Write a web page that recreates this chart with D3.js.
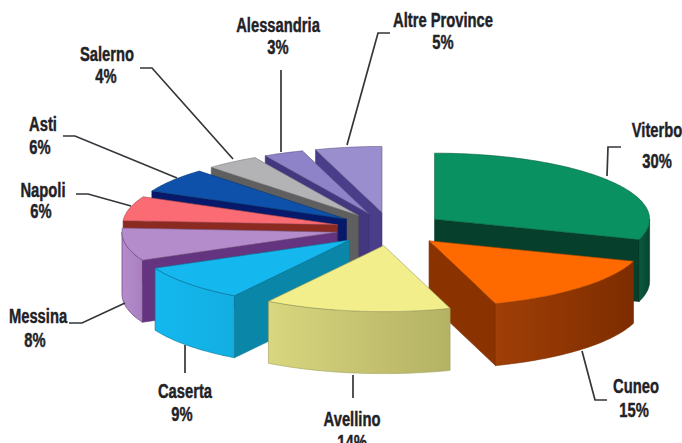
<!DOCTYPE html>
<html>
<head>
<meta charset="utf-8">
<script src="https://cdn.jsdelivr.net/npm/d3@7"></script>
<style>
  html, body { margin: 0; padding: 0; background: #fff; }
  svg { display: block; }
  text { font-family: "Liberation Sans", sans-serif; font-weight: 700; fill: #1f2226; stroke: #1f2226; stroke-width: 0.45px; text-anchor: middle; }
</style>
</head>
<body>
<svg id="chart" width="682" height="443"></svg>
<script>
// Share of production by province, in percent
const provinces = ["Viterbo", "Cuneo", "Avellino", "Caserta", "Messina", "Napoli", "Asti", "Salerno", "Alessandria", "Altre Province"];
const shares = [30, 15, 14, 9, 8, 6, 6, 4, 3, 5];

// Face colours per slice
const topColors  = ["#0a9162", "#ff6a00", "#f1ee8b", "#14b8ee", "#b48ccb", "#fa6b74", "#0d51aa", "#b3b3b6", "#8e82c9", "#9a8ecf"];
const wallColors = ["#063f2b", "#8a3300", "#b9b86a", "#0a87a8", "#643480", "#8a2a20", "#07196b", "#5f5f5f", "#43387f", "#4a3d8a"];
// Curved wall shading, left end then right end
const rimStops   = [
  ["#0a5a3e", "#07452f"],
  ["#a03f06", "#7d2c00"],
  ["#d8d67e", "#b4b264"],
  ["#14b8ee", "#12aee2"],
  ["#b48ccb", "#a97fc1"],
  ["#a33", "#a33"],
  ["#07196b", "#07196b"],
  ["#5f5f5f", "#5f5f5f"],
  ["#43387f", "#43387f"],
  ["#4a3d8a", "#4a3d8a"]
];

// Name and percentage anchors: [x, baseline] for each line
const labelLines = [
  [[657, 137], [657, 168]],
  [[636, 393], [634, 417]],
  [[352, 426], [352, 449]],
  [[185, 398], [182, 421]],
  [[38, 323], [35, 347]],
  [[43, 197], [41, 218]],
  [[43, 131], [40, 154]],
  [[107, 61], [106, 83]],
  [[278, 32], [278, 54]],
  [[443, 27], [443, 49]]
];
const labelSize = 20.5, labelNarrow = 0.72;

// Leader polylines from each label to its slice
const leaders = [
  [[621, 147], [608, 147], [607, 176]],
  [[607, 400], [595, 400], [582, 351]],
  [[353, 398], [353, 375]],
  [[185, 373], [185, 345]],
  [[69, 323], [82, 323], [125, 303]],
  [[76, 194], [88, 194], [131, 206]],
  [[63, 136], [75, 136], [177, 178]],
  [[140, 68], [152, 68], [233, 159]],
  [[281, 70], [281, 152]],
  [[390, 33], [378, 33], [347, 145]]
];

// Projection of the tilted pie
const cx = 390.5, cy = 229, radius = 215, tilt = 0.307, explode = 54.5, depth = 62;

const svg = d3.select("#chart");
const defs = svg.append("defs");
const outline = d3.line();

const slices = d3.pie().sort(null).startAngle(0).endAngle(2 * Math.PI)(shares)
  .map((d, i) => ({ ...d, i, mid: (d.startAngle + d.endAngle) / 2 }));

// Ground-plane polar position to screen, dropped by z for the lower face
const project = (d, angle, r, z = 0) => [
  cx + explode * Math.sin(d.mid) + r * Math.sin(angle),
  cy - (explode * Math.cos(d.mid) + r * Math.cos(angle)) * tilt + z
];

const rimAngles = (a0, a1) => {
  const steps = Math.max(2, Math.ceil((a1 - a0) / 0.02));
  return d3.range(steps + 1).map(k => a0 + (a1 - a0) * k / steps);
};

const wallPath = (d, angle) => outline([
  project(d, angle, 0), project(d, angle, radius),
  project(d, angle, radius, depth), project(d, angle, 0, depth)
]) + "Z";

// Back slices first so nearer ones paint over them
const ordered = slices.slice().sort((a, b) => d3.ascending(-Math.cos(a.mid), -Math.cos(b.mid)));

const groups = svg.selectAll("g.slice").data(ordered).join("g").attr("class", "slice");

groups.each(function (d) {
  const g = d3.select(this);
  const edge = d3.color(wallColors[d.i]).darker(0.4);

  // Radial walls facing the viewer
  if (Math.sin(d.startAngle) < -1e-6) {
    g.append("path").attr("d", wallPath(d, d.startAngle))
      .attr("fill", wallColors[d.i]).attr("stroke", edge).attr("stroke-width", 0.6);
  }
  if (Math.sin(d.endAngle) > 1e-6) {
    g.append("path").attr("d", wallPath(d, d.endAngle))
      .attr("fill", wallColors[d.i]).attr("stroke", edge).attr("stroke-width", 0.6);
  }

  // Outer curved wall, only the near half of the circle
  const a0 = Math.max(d.startAngle, Math.PI / 2);
  const a1 = Math.min(d.endAngle, 3 * Math.PI / 2);
  if (a1 > a0) {
    const gradId = "rim" + d.i;
    const grad = defs.append("linearGradient").attr("id", gradId);
    grad.append("stop").attr("offset", "0%").attr("stop-color", rimStops[d.i][0]);
    grad.append("stop").attr("offset", "100%").attr("stop-color", rimStops[d.i][1]);
    const arc = rimAngles(a0, a1);
    const pts = arc.map(a => project(d, a, radius))
      .concat(arc.slice().reverse().map(a => project(d, a, radius, depth)));
    g.append("path").attr("d", outline(pts) + "Z")
      .attr("fill", `url(#${gradId})`).attr("stroke", edge).attr("stroke-width", 0.6);
  }

  // Top face
  const topPts = [project(d, 0, 0)].concat(rimAngles(d.startAngle, d.endAngle).map(a => project(d, a, radius)));
  g.append("path").attr("d", outline(topPts) + "Z")
    .attr("fill", topColors[d.i])
    .attr("stroke", d3.color(topColors[d.i]).darker(1.2)).attr("stroke-width", 0.6);
});

// Leader lines
svg.selectAll("path.leader").data(leaders).join("path")
  .attr("class", "leader")
  .attr("d", d => outline(d))
  .attr("fill", "none").attr("stroke", "#33363a").attr("stroke-width", 1.7);

// Province and percentage labels, narrowed horizontally
const placed = ([x, y]) => `translate(${x},${y}) scale(${labelNarrow},1)`;
const labels = svg.selectAll("g.label").data(provinces).join("g").attr("class", "label");
labels.append("text").attr("font-size", labelSize)
  .attr("transform", (d, i) => placed(labelLines[i][0]))
  .text(d => d);
labels.append("text").attr("font-size", labelSize)
  .attr("transform", (d, i) => placed(labelLines[i][1]))
  .text((d, i) => shares[i] + "%");
</script>
</body>
</html>
